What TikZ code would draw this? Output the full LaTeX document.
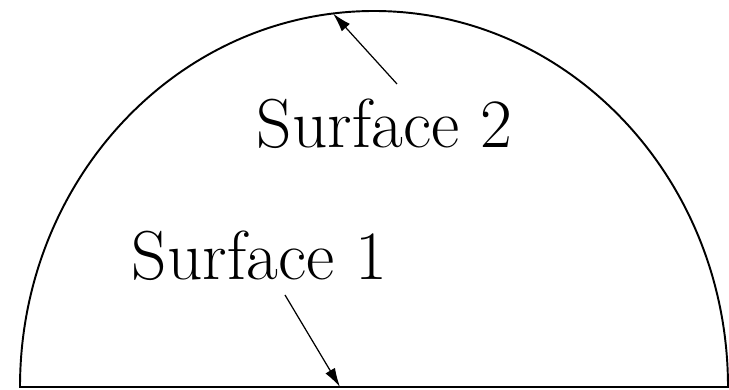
\documentclass[tikz,border=0pt]{standalone}
\usetikzlibrary{arrows.meta}
\usetikzlibrary{positioning}

\begin{document}
\begin{tikzpicture}[
				surflabel/.style = {font=\fontsize{39.4}{44}\selectfont, anchor=base, inner sep=0pt},
				line/.style = {-{Latex[length=0.38cm, width=0.22cm]}, line width=0.7pt},
				shell/.style = {line width=1.1pt}
				]
				\useasboundingbox (0,0) rectangle (14.58,7.8);
				
				% half dome
				\draw[shell] (0.40,0.06) arc[start angle=180, end angle=0, x radius=7.08, y radius=7.52] -- cycle;
				
				\node[surflabel] (surf2) at (7.69,4.84) {Surface 2};
				\node[surflabel] (surf1) at (5.19,2.20) {Surface 1};
				
				\coordinate (from2) at (7.94,6.12);
				\coordinate (top) at (6.66,7.53);
				\coordinate (from1) at (5.70,1.90);
				\coordinate (bottom) at (6.80,0.06);
				
				\draw[line] (from2) -- (top);
				\draw[line] (from1) -- (bottom);
			\end{tikzpicture}
\end{document}
